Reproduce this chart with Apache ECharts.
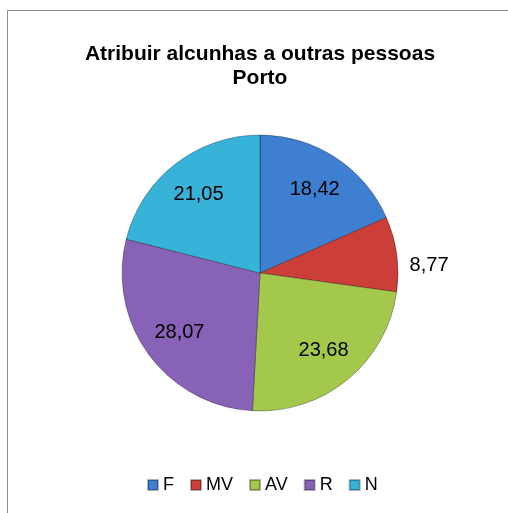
<!DOCTYPE html>
<html>
<head>
<meta charset="utf-8">
<script src="https://cdn.jsdelivr.net/npm/echarts@6/dist/echarts.min.js"></script>
<style>
  html, body { margin: 0; padding: 0; background: #fff; }
  #chart { width: 508px; height: 513px; }
</style>
</head>
<body>
<div id="chart"></div>
<script>
  var TITLE = "Atribuir alcunhas a outras pessoas\nPorto";
  var CATEGORIES = ["F", "MV", "AV", "R", "N"];
  var VALUES = [18.42, 8.77, 23.68, 28.07, 21.05];
  var COLORS = ["#3f7fd2", "#cc3e38", "#a3c84b", "#8762b6", "#37b3d9"];

  var FONT = "Liberation Sans, Arial, sans-serif";

  function fmt(v) { return v.toFixed(2).replace(".", ","); }

  var pieData = CATEGORIES.map(function (c, i) {
    return { name: c, value: VALUES[i], itemStyle: { color: COLORS[i] } };
  });

  // same slices again, transparent, only to carry the labels further out
  var labelData = CATEGORIES.map(function (c, i) {
    var d = { name: c, value: VALUES[i], itemStyle: { color: "rgba(0,0,0,0)" } };
    if (c === "MV") {
      // small slice: label sits outside, a bit below the slice middle
      d.label = { position: "outside", lineHeight: 26, formatter: function (p) { return "\n" + fmt(p.value); } };
      d.labelLine = { show: false, length: 8, length2: 0 };
    }
    return d;
  });

  var chart = echarts.init(document.getElementById("chart"));
  chart.setOption({
    animation: false,
    title: {
      text: TITLE,
      left: 255,
      textAlign: "center",
      top: 37,
      textStyle: { fontFamily: FONT, fontSize: 21, fontWeight: "bold", color: "#000", lineHeight: 24 }
    },
    legend: {
      data: CATEGORIES,
      left: 142,
      top: 471,
      itemWidth: 10,
      itemHeight: 10,
      itemGap: 16,
      icon: "rect",
      textStyle: { fontFamily: FONT, fontSize: 18, color: "#000" }
    },
    graphic: [{
      type: "rect",
      shape: { x: 7.5, y: 10.5, width: 600, height: 600 },
      style: { fill: "none", stroke: "#8c8c8c", lineWidth: 1 },
      silent: true
    }],
    series: [{
      type: "pie",
      center: [260, 273],
      radius: [0, 138],
      startAngle: 90,
      clockwise: true,
      label: { show: false },
      labelLine: { show: false },
      itemStyle: { borderColor: "rgba(0,0,0,0.3)", borderWidth: 1 },
      emphasis: { disabled: true },
      data: pieData
    }, {
      type: "pie",
      center: [260, 273],
      radius: [56, 138],
      startAngle: 90,
      clockwise: true,
      silent: true,
      avoidLabelOverlap: false,
      legendHoverLink: false,
      label: {
        show: true,
        position: "inside",
        fontFamily: FONT,
        fontSize: 20,
        color: "#000",
        formatter: function (p) { return fmt(p.value); }
      },
      labelLine: { show: false },
      emphasis: { disabled: true },
      data: labelData
    }]
  });
</script>
</body>
</html>
